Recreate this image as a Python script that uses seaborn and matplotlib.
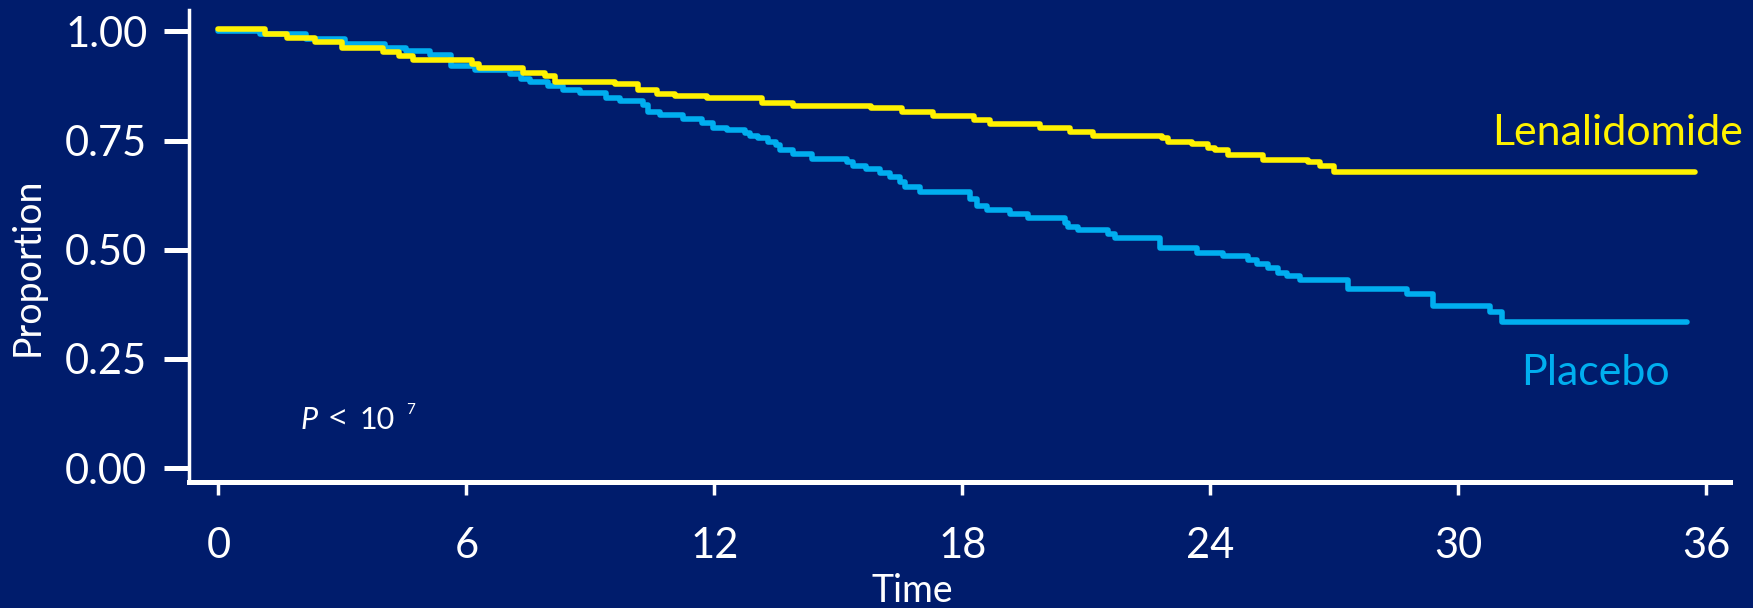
import matplotlib
matplotlib.use("Agg")
import matplotlib.pyplot as plt
import pandas as pd
import seaborn as sns

# ---- data ----
arms = ["Placebo", "Lenalidomide"]

len_time = [0, 1.13, 1.66, 2.34, 2.98, 3.98, 4.37, 4.71, 6.13, 6.30, 7.37, 7.90, 8.14,
            9.59, 10.15, 10.60, 11.05, 11.81, 13.14, 13.90, 15.78, 16.53, 17.30, 18.28,
            18.67, 19.88, 20.60, 21.15, 22.82, 22.98, 23.55, 23.95, 24.10, 24.43, 25.27,
            26.36, 26.65, 27.00, 35.72]
len_prop = [1.005, 0.994, 0.984, 0.976, 0.961, 0.952, 0.944, 0.934, 0.925, 0.917, 0.904,
            0.897, 0.885, 0.879, 0.866, 0.856, 0.853, 0.847, 0.835, 0.829, 0.824, 0.816,
            0.806, 0.797, 0.789, 0.778, 0.770, 0.760, 0.755, 0.747, 0.742, 0.734, 0.728,
            0.718, 0.705, 0.701, 0.692, 0.679, 0.679]

pla_time = [0, 1.0, 2.13, 3.06, 4.03, 4.55, 5.12, 5.64, 6.20, 7.05, 7.33, 7.54, 7.98,
            8.34, 8.75, 9.39, 9.71, 10.28, 10.40, 10.68, 11.25, 11.69, 11.97, 12.30,
            12.74, 12.86, 13.06, 13.30, 13.50, 13.59, 13.90, 14.35, 15.20, 15.36, 15.68,
            16.00, 16.25, 16.49, 16.61, 16.97, 18.18, 18.35, 18.59, 19.15, 19.59, 20.48,
            20.56, 20.80, 21.53, 21.69, 22.78, 23.67, 24.31, 24.92, 25.12, 25.40, 25.64,
            25.86, 26.17, 27.34, 28.75, 29.39, 30.76, 31.05, 35.52]
pla_prop = [1.0, 0.994, 0.982, 0.972, 0.963, 0.956, 0.947, 0.921, 0.911, 0.902, 0.892,
            0.885, 0.875, 0.866, 0.860, 0.848, 0.840, 0.831, 0.816, 0.808, 0.799, 0.791,
            0.778, 0.774, 0.768, 0.760, 0.755, 0.747, 0.740, 0.728, 0.719, 0.707, 0.701,
            0.692, 0.684, 0.675, 0.666, 0.656, 0.643, 0.633, 0.615, 0.601, 0.591, 0.582,
            0.573, 0.562, 0.551, 0.545, 0.537, 0.527, 0.504, 0.492, 0.485, 0.476, 0.467,
            0.457, 0.447, 0.440, 0.430, 0.411, 0.398, 0.371, 0.358, 0.335, 0.335]

x_ticks = [0, 6, 12, 18, 24, 30, 36]
y_ticks = [0.0, 0.25, 0.50, 0.75, 1.00]
y_tick_labels = ["0.00", "0.25", "0.50", "0.75", "1.00"]

# ---- styling ----
BG = "#001c6c"
YELLOW = "#fff200"
BLUE = "#00aeef"
WHITE = "#ffffff"

sns.set_theme(style="ticks")
plt.rcParams["font.family"] = ["Lato", "DejaVu Sans"]

df = pd.concat([
    pd.DataFrame({"Time": pla_time, "Proportion": pla_prop, "arm": arms[0]}),
    pd.DataFrame({"Time": len_time, "Proportion": len_prop, "arm": arms[1]}),
], ignore_index=True)

W, H = 1753, 608
fig = plt.figure(figsize=(W / 100, H / 100), dpi=100, facecolor=BG)
ax = fig.add_axes([189 / W, 126 / H, 1541 / W, 472 / H])
ax.set_facecolor(BG)

sns.lineplot(data=df, x="Time", y="Proportion", hue="arm", hue_order=arms,
             palette={arms[0]: BLUE, arms[1]: YELLOW}, drawstyle="steps-post",
             estimator=None, linewidth=4.0, legend=False, ax=ax)

ax.set_xlim(-0.71, 36.57)
ax.set_ylim(-0.032, 1.049)
ax.set_xticks(x_ticks)
ax.set_xticklabels([str(t) for t in x_ticks])
ax.set_yticks(y_ticks)
ax.set_yticklabels(y_tick_labels)

for s in ["top", "right"]:
    ax.spines[s].set_visible(False)
ax.spines["left"].set_color(WHITE)
ax.spines["left"].set_linewidth(2.5)
ax.spines["bottom"].set_color(WHITE)
ax.spines["bottom"].set_linewidth(3.6)

ax.tick_params(axis="y", colors=WHITE, labelcolor=WHITE, labelsize=30,
               length=18, width=3.6, pad=12, direction="out")
ax.tick_params(axis="x", colors=WHITE, labelcolor=WHITE, labelsize=30,
               length=9.5, width=2.5, pad=23, direction="out")

ax.set_xlabel("Time", color=WHITE, fontsize=27, va="baseline")
ax.xaxis.set_label_coords((912 - 189) / 1541, (482 - 602) / 472)
ax.set_ylabel("Proportion", color=WHITE, fontsize=27, va="center")
ax.yaxis.set_label_coords((28 - 189) / 1541, (482 - 267) / 472)

# curve labels
ax.text((1743 - 189) / 1541, (482 - 145) / 472, "Lenalidomide", transform=ax.transAxes,
        color=YELLOW, fontsize=31, ha="right", va="baseline")
ax.text((1521 - 189) / 1541, (482 - 385) / 472, "Placebo", transform=ax.transAxes,
        color=BLUE, fontsize=31, ha="left", va="baseline")

# p-value annotation
ax.text((301 - 189) / 1541, (482 - 429) / 472, "P", transform=ax.transAxes,
        color=WHITE, fontsize=22, style="italic", ha="left", va="baseline")
ax.text((329 - 189) / 1541, (482 - 429) / 472, "<", transform=ax.transAxes,
        color=WHITE, fontsize=22, ha="left", va="baseline",
        family=["Noto Sans", "DejaVu Sans"])
ax.text((360 - 189) / 1541, (482 - 429) / 472, "10", transform=ax.transAxes,
        color=WHITE, fontsize=22, ha="left", va="baseline")
ax.text((406 - 189) / 1541, (482 - 414) / 472, "7", transform=ax.transAxes,
        color=WHITE, fontsize=11, ha="left", va="baseline")

fig.savefig("out.png", dpi=100, facecolor=BG)
